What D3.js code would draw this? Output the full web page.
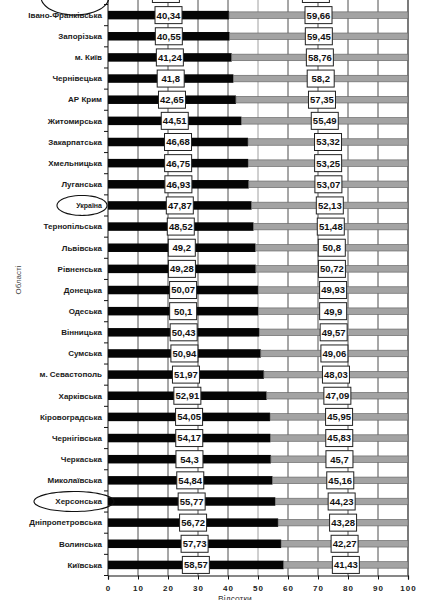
<!DOCTYPE html>
<html lang="uk">
<head>
    <meta charset="UTF-8">
    <title>Області</title>
    <script src="https://cdn.jsdelivr.net/npm/d3@7"></script>
    <style>
        body { margin: 0; background: #fff; }
        text { font-family: "Liberation Sans", Arial, sans-serif; }
    </style>
</head>
<body>
<script>

    // області, впорядковані за першою часткою
    var regions = ["Полтавська", "Івано-Франківська", "Запорізька", "м. Київ", "Чернівецька",
        "АР Крим", "Житомирська", "Закарпатська", "Хмельницька", "Луганська", "Україна",
        "Тернопільська", "Львівська", "Рівненська", "Донецька", "Одеська", "Вінницька",
        "Сумська", "м. Севастополь", "Харківська", "Кіровоградська", "Чернігівська",
        "Черкаська", "Миколаївська", "Херсонська", "Дніпропетровська", "Волинська", "Київська"];

    var shareBlack = [38.6, 40.34, 40.55, 41.24, 41.8, 42.65, 44.51, 46.68, 46.75, 46.93, 47.87,
        48.52, 49.2, 49.28, 50.07, 50.1, 50.43, 50.94, 51.97, 52.91, 54.05, 54.17,
        54.3, 54.84, 55.77, 56.72, 57.73, 58.57];

    var shareGray = [61.4, 59.66, 59.45, 58.76, 58.2, 57.35, 55.49, 53.32, 53.25, 53.07, 52.13,
        51.48, 50.8, 50.72, 49.93, 49.9, 49.57, 49.06, 48.03, 47.09, 45.95, 45.83,
        45.7, 45.16, 44.23, 43.28, 42.27, 41.43];

    var xTicks = [0, 10, 20, 30, 40, 50, 60, 70, 80, 90, 100];

    // обведені від руки
    var circled = ["Полтавська", "Україна", "Херсонська"];

    var width = 424, height = 600;
    var mLeft = 108, mTop = -16.6, innerW = 300, innerH = 592.1;

    var svg = d3.select("body").append("svg")
        .attr("width", width)
        .attr("height", height);

    var g = svg.append("g").attr("transform", "translate(" + mLeft + "," + mTop + ")");

    var x = d3.scaleLinear().domain([0, 100]).range([0, innerW]);
    var y = d3.scaleBand().domain(regions).range([0, innerH]).padding(0);

    var fmt = function(v) { return String(v).replace(".", ","); };

    // вертикальна сітка
    g.selectAll(".grid").data(xTicks.slice(1)).enter().append("line")
        .attr("x1", function(d) { return x(d); })
        .attr("x2", function(d) { return x(d); })
        .attr("y1", 0).attr("y2", innerH)
        .attr("stroke", function(d) { return d === 50 ? "#888" : "#222"; })
        .attr("stroke-width", function(d) { return d === 100 ? 1.2 : 0.8; });

    var bh = 8.5;

    // чорна частина
    g.selectAll(".barA").data(regions).enter().append("rect")
        .attr("x", x(0))
        .attr("y", function(d) { return y(d) + y.bandwidth() / 2 - bh / 2; })
        .attr("width", function(d, i) { return x(shareBlack[i]); })
        .attr("height", bh)
        .attr("fill", "#050505");

    // сіра частина
    g.selectAll(".barB").data(regions).enter().append("rect")
        .attr("x", function(d, i) { return x(shareBlack[i]); })
        .attr("y", function(d) { return y(d) + y.bandwidth() / 2 - bh / 2 + 1; })
        .attr("width", function(d, i) { return x(shareGray[i]); })
        .attr("height", bh - 2)
        .attr("fill", "#a3a3a3")
        .attr("stroke", "#6a6a6a")
        .attr("stroke-width", 0.7);

    // підписи значень у рамках
    function addLabels(vals, centerOf) {
        var lab = g.selectAll(null).data(regions).enter().append("g")
            .attr("transform", function(d, i) {
                return "translate(" + x(centerOf(i)) + "," + (y(d) + y.bandwidth() / 2) + ")";
            });
        lab.append("rect")
            .attr("x", -13.5).attr("y", -8.5)
            .attr("width", 27).attr("height", 17)
            .attr("fill", "#fff")
            .attr("stroke", "#222")
            .attr("stroke-width", 1);
        lab.append("text")
            .attr("text-anchor", "middle")
            .attr("dy", "0.36em")
            .attr("font-size", 9.5)
            .attr("font-weight", "bold")
            .attr("fill", "#111")
            .text(function(d, i) { return fmt(vals[i]); });
    }
    addLabels(shareBlack, function(i) { return shareBlack[i] / 2; });
    addLabels(shareGray, function(i) { return shareBlack[i] + shareGray[i] / 2; });

    // вісь Y
    g.append("line").attr("x1", 0).attr("x2", 0).attr("y1", 0).attr("y2", innerH)
        .attr("stroke", "#111").attr("stroke-width", 1);
    g.selectAll(".ytick").data(regions).enter().append("line")
        .attr("x1", -4).attr("x2", 0)
        .attr("y1", function(d) { return y(d) + y.bandwidth(); })
        .attr("y2", function(d) { return y(d) + y.bandwidth(); })
        .attr("stroke", "#111");

    g.selectAll(".ylab").data(regions).enter().append("text")
        .attr("x", -6)
        .attr("y", function(d) { return y(d) + y.bandwidth() / 2; })
        .attr("dy", "0.35em")
        .attr("text-anchor", "end")
        .attr("font-size", function(d) { return d === "Україна" ? 7 : 8; })
        .attr("font-weight", "bold")
        .attr("fill", "#1a1a1a")
        .text(function(d) { return d; });

    // вісь X
    var xAxis = g.append("g")
        .attr("transform", "translate(0," + innerH + ")")
        .call(d3.axisBottom(x).tickValues(xTicks).tickSize(4).tickPadding(6));
    xAxis.select(".domain").attr("stroke", "#111").attr("stroke-width", 1.2);
    xAxis.selectAll(".tick line").attr("stroke", "#111");
    xAxis.selectAll("text")
        .attr("font-size", 8)
        .attr("font-weight", "bold")
        .attr("letter-spacing", 1)
        .attr("fill", "#222");

    g.append("text")
        .attr("x", 127).attr("y", innerH + 27)
        .attr("text-anchor", "middle")
        .attr("font-size", 8.5)
        .attr("fill", "#333")
        .text("Відсотки");

    svg.append("text")
        .attr("transform", "translate(21,280) rotate(-90)")
        .attr("text-anchor", "middle")
        .attr("font-size", 8)
        .attr("fill", "#444")
        .text("Області");

    // рукописні овали навколо назв
    var ovals = {
        "Полтавська": { cx: 75, dy: 3, rx: 34, ry: 18 },
        "Україна": { cx: 82, dy: 0, rx: 25, ry: 10 },
        "Херсонська": { cx: 74, dy: 0, rx: 40, ry: 10 }
    };
    circled.forEach(function(name) {
        var o = ovals[name];
        var cy = mTop + y(name) + y.bandwidth() / 2 + o.dy;
        var pts = d3.range(0, 1.02, 0.02).map(function(t) {
            var a = -0.3 + t * 2 * Math.PI * 1.02;
            return [o.cx + o.rx * Math.cos(a), cy + o.ry * Math.sin(a)];
        });
        svg.append("path")
            .attr("d", d3.line().curve(d3.curveCatmullRom)(pts))
            .attr("fill", "none")
            .attr("stroke", "#111")
            .attr("stroke-width", 1.1);
    });

</script>
</body>
</html>
